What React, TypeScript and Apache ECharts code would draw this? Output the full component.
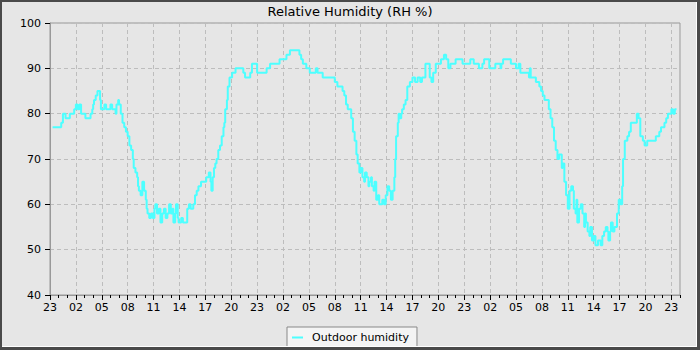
import React, { useEffect, useRef } from "react";
import * as echarts from "echarts";

// hours since 23:00 of day 1
const hours: number[] = [
  0.3, 1.3, 1.5, 1.8, 2.0, 2.3, 2.6, 2.8, 3.0, 3.2, 3.4, 3.6, 3.9, 4.1, 4.5, 4.7, 4.9, 5.0, 5.1, 5.3, 5.5, 5.7, 5.8, 5.9,
  6.1, 6.3, 6.5, 6.8, 7.0, 7.2, 7.4, 7.6, 7.7, 7.9, 8.0, 8.2, 8.4, 8.6, 8.8, 9.0, 9.2, 9.4, 9.6, 9.7, 9.9, 10.1, 10.2,
  10.3, 10.5, 10.7, 10.9, 11.1, 11.2, 11.3, 11.5, 11.7, 11.9, 12.1, 12.2, 12.4, 12.6, 12.8, 13.0, 13.2, 13.4, 13.6,
  13.8, 14.0, 14.2, 14.3, 14.5, 14.6, 14.8, 14.9, 15.2, 15.4, 15.7, 15.9, 16.1, 16.3, 16.6, 16.8, 17.0, 17.2, 17.5,
  17.8, 18.1, 18.4, 18.6, 18.7, 18.85, 19.0, 19.15, 19.3, 19.5, 19.7, 19.9, 20.1, 20.2, 20.3, 20.5, 20.6, 20.8, 21.1,
  21.5, 22.2, 22.4, 22.6, 23.0, 23.2, 23.4, 23.8, 24.0, 24.9, 25.1, 25.5, 26.5,
  26.6, 27.0, 27.4, 27.8, 28.7, 28.9, 29.1, 29.3, 29.7, 30.1, 30.6, 30.8, 31.0, 31.4, 31.6, 32.8, 33.0, 33.3, 33.7,
  33.9, 34.1, 34.3, 34.5, 34.7, 34.9, 35.1, 35.3, 35.5, 35.65, 35.85, 36.0, 36.2, 36.4, 36.5, 36.7, 36.9, 37.0, 37.2,
  37.3, 37.5, 37.6, 37.8, 38.0, 38.15, 38.5, 38.7, 38.9, 39.1, 39.3, 39.5, 39.7, 39.9, 40.0, 40.1, 40.3, 40.4, 40.5,
  40.7, 40.8, 41.0, 41.2, 41.4, 41.7, 42.0, 42.3, 42.6, 42.9, 43.1, 43.3, 43.5, 43.8, 44.0, 44.2, 44.4, 44.7, 45.0,
  45.3, 45.65, 45.9, 46.15, 46.4, 47.0, 47.6, 47.8, 48.5, 48.7, 49.0, 49.1, 49.6, 49.7,
  49.8, 50.1, 50.3, 50.7, 50.9, 51.3, 51.6, 52.0, 52.2, 52.3, 52.5, 53.3, 53.4, 53.8, 54.0, 54.3, 54.5, 54.6, 55.3,
  55.5, 55.6, 55.7, 55.9, 56.3, 56.7, 56.9, 57.1, 57.3, 57.7, 57.8, 58.0, 58.2, 58.4, 58.6, 58.8, 59.0, 59.2, 59.3,
  59.4, 59.6, 59.8, 60.0, 60.2, 60.4, 60.6, 60.7, 60.9, 61.0, 61.1, 61.3, 61.5, 61.7, 61.9, 62.0, 62.1, 62.3, 62.5,
  62.6, 62.8, 63.0, 63.2, 63.5, 63.8, 64.0, 64.2, 64.4, 64.6, 64.7, 64.9, 65.0, 65.2, 65.4, 65.5, 65.7, 65.9, 66.1,
  66.3, 66.4, 66.6, 66.9, 67.1, 67.3, 67.9, 68.0, 68.2, 68.4, 68.7, 68.9, 69.2, 70.0, 70.2, 70.6, 70.8, 71.0, 71.2,
  71.4, 71.6, 72.0, 72.2, 72.4, 72.6,
];

const outdoorRH: number[] = [
  77, 78, 80, 79, 79, 80, 80, 81, 82, 81, 82, 80, 80, 79, 79, 80, 81, 82, 83, 84, 85, 85, 83, 81,
  81, 82, 81, 81, 82, 81, 81, 80, 82, 83, 82, 80, 78, 77, 76, 75, 73, 72, 70, 68, 67, 66, 64,
  63, 62, 65, 63, 61, 59, 58, 57, 58, 57, 59, 60, 58, 59, 56, 58, 59, 57, 58,
  60, 58, 59, 56, 58, 60, 57, 56, 57, 56, 56, 59, 60, 59, 60, 62, 63, 64, 65,
  65, 66, 67, 65, 63, 66, 68, 69, 70, 72, 73, 75, 77, 78, 81, 83, 86, 88, 89,
  90, 90, 89, 88, 88, 89, 91, 91, 89, 89, 90, 91, 91,
  92, 92, 93, 94, 94, 93, 92, 91, 90, 89, 89, 90, 89, 89, 88, 88, 87, 86, 86,
  85, 84, 82, 81, 81, 79, 76, 74, 71, 69, 67, 68, 66, 65, 67, 66, 64, 65, 66,
  64, 63, 65, 61, 62, 60, 61, 60, 62, 64, 63, 61, 63, 66, 70, 75, 78, 80, 79,
  80, 81, 82, 83, 86, 87, 88, 87, 88, 87, 88, 88, 91, 91, 88, 87, 89, 91, 91,
  92, 93, 92, 90, 91, 92, 92, 91, 91, 92, 92, 91, 91, 90,
  90, 91, 92, 92, 90, 90, 91, 91, 90, 91, 92, 92, 91, 91, 90, 91, 89, 89, 89,
  88, 90, 88, 88, 87, 86, 85, 84, 83, 83, 81, 79, 77, 74, 72, 70, 71, 71, 68,
  69, 65, 62, 59, 63, 64, 63, 59, 58, 61, 56, 59, 60, 58, 55, 58, 56, 54, 53,
  55, 52, 53, 51, 52, 51, 53, 54, 55, 54, 52, 54, 56, 54, 55, 55, 58, 61, 60,
  64, 70, 74, 75, 76, 78, 78, 80, 79, 75, 74, 73, 74, 74, 75, 76, 77, 77, 78,
  79, 80, 81, 80, 81, 81,
];

const majorHours: number[] = Array.from({ length: 25 }, (_, i) => i * 3);
const startHour = 23;
const seriesName = "Outdoor humidity";
const titleText = "Relative Humidity (RH %)";

export default function App() {
  const ref = useRef<HTMLDivElement>(null);
  useEffect(() => {
    if (!ref.current) return;
    const chart = echarts.init(ref.current, undefined, { renderer: "svg" });
    const font = "DejaVu Sans";
    const data = hours.map((h, i) => [h, outdoorRH[i]]);
    chart.setOption({
      animation: false,
      backgroundColor: "#e6e6e6",
      title: {
        text: titleText,
        left: "center",
        top: 3,
        padding: 0,
        textStyle: { fontFamily: font, fontSize: 13, fontWeight: "normal", color: "#000", lineHeight: 16 },
      },
      legend: {
        data: [seriesName],
        left: 287,
        top: 327,
        orient: "horizontal",
        icon: "rect",
        itemWidth: 11,
        itemHeight: 2,
        backgroundColor: "#f4f4f4",
        borderColor: "#888",
        borderWidth: 1,
        borderRadius: 0,
        padding: [5, 8, 6, 5],
        textStyle: { fontFamily: font, fontSize: 11, color: "#000", padding: [0, 0, 0, 4] },
      },
      grid: {
        left: 50,
        right: 20,
        top: 23,
        bottom: 55,
        show: true,
        borderColor: "#999",
        borderWidth: 1,
        backgroundColor: "#e6e6e6",
      },
      xAxis: [
        {
          type: "value",
          min: 0,
          max: 73,
          interval: 3,
          axisLine: { show: true, lineStyle: { color: "#999", width: 1 } },
          axisTick: { show: true, length: 5, customValues: majorHours, lineStyle: { color: "#000", width: 1 } },
          axisLabel: {
            customValues: majorHours,
            margin: 6,
            fontFamily: font,
            fontSize: 11,
            lineHeight: 13,
            color: "#000",
            formatter: (v: number) =>
              Math.round(v) % 3 === 0 && v <= 72 ? String((startHour + Math.round(v)) % 24).padStart(2, "0") : "",
          },
          splitLine: { show: true, lineStyle: { color: "#bdbdbd", width: 1, type: [4, 3] } },
        },
        {
          type: "value",
          min: 0,
          max: 73,
          interval: 1,
          position: "bottom",
          offset: 0,
          axisLine: { show: false },
          axisTick: { show: true, length: 3, lineStyle: { color: "#000", width: 1 } },
          axisLabel: { show: false },
          splitLine: { show: false },
        },
      ],
      yAxis: {
        type: "value",
        min: 40,
        max: 100,
        interval: 10,
        axisLine: { show: true, lineStyle: { color: "#999", width: 1 } },
        axisTick: { show: true, length: 5, lineStyle: { color: "#000", width: 1 } },
        axisLabel: { margin: 9, fontFamily: font, fontSize: 11, color: "#000" },
        splitLine: { show: true, lineStyle: { color: "#bdbdbd", width: 1, type: [4, 3] } },
      },
      series: [
        {
          name: seriesName,
          type: "line",
          xAxisIndex: 0,
          step: "end",
          symbol: "none",
          data,
          lineStyle: { color: "#4dffff", width: 2 },
          itemStyle: { color: "#4dffff" },
        },
      ],
      graphic: [
        { type: "rect", z: 100, shape: { x: 0, y: 0, width: 700, height: 2 }, style: { fill: "#4a4a4a" } },
        { type: "rect", z: 100, shape: { x: 0, y: 0, width: 2, height: 350 }, style: { fill: "#4a4a4a" } },
        { type: "rect", z: 100, shape: { x: 696, y: 2, width: 1, height: 345 }, style: { fill: "#ffffff" } },
        { type: "rect", z: 100, shape: { x: 2, y: 346, width: 695, height: 1 }, style: { fill: "#ffffff" } },
        { type: "rect", z: 100, shape: { x: 697, y: 0, width: 3, height: 350 }, style: { fill: "#4a4a4a" } },
        { type: "rect", z: 100, shape: { x: 0, y: 347, width: 700, height: 3 }, style: { fill: "#4a4a4a" } },
      ],
    });
    return () => chart.dispose();
  }, []);
  return <div ref={ref} style={{ position: "fixed", left: 0, top: 0, width: 700, height: 350 }} />;
}
